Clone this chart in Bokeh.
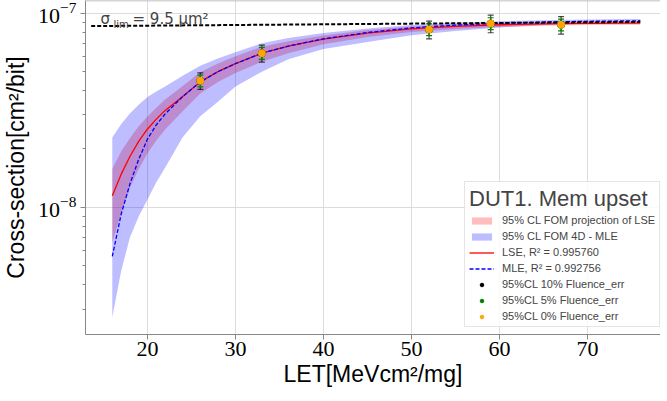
from bokeh.plotting import figure
from bokeh.models import FixedTicker, Legend, LegendItem, Label, Span
from bokeh.embed import file_html
from bokeh.resources import INLINE

# ---------------- data ----------------
let_curve = [16, 17, 18, 19, 20, 21, 22, 24, 26, 28, 30, 33, 36, 40, 45, 50, 55, 60, 65, 70, 76]
lse_fit = [1.15e-8, 1.48e-8, 1.83e-8, 2.19e-8, 2.535e-8, 2.85e-8, 3.16e-8, 3.72e-8, 4.43e-8, 5.00e-8, 5.50e-8,
           6.22e-8, 6.76e-8, 7.35e-8, 7.90e-8, 8.30e-8, 8.55e-8, 8.72e-8, 8.81e-8, 8.86e-8, 8.89e-8]
mle_fit = [5.6e-9, 9.2e-9, 1.32e-8, 1.77e-8, 2.25e-8, 2.66e-8, 3.03e-8, 3.72e-8, 4.43e-8, 5.00e-8, 5.50e-8,
           6.22e-8, 6.77e-8, 7.38e-8, 7.95e-8, 8.40e-8, 8.68e-8, 8.88e-8, 9.00e-8, 9.08e-8, 9.14e-8]
lse_band_high = [1.58e-8, 1.94e-8, 2.27e-8, 2.62e-8, 2.94e-8, 3.26e-8, 3.59e-8, 4.22e-8, 4.96e-8, 5.50e-8, 6.00e-8,
                 6.72e-8, 7.17e-8, 7.68e-8, 8.18e-8, 8.55e-8, 8.76e-8, 8.91e-8, 8.99e-8, 9.04e-8, 9.07e-8]
lse_band_low = [6.6e-9, 9.3e-9, 1.26e-8, 1.58e-8, 1.90e-8, 2.21e-8, 2.52e-8, 3.13e-8, 3.86e-8, 4.43e-8, 4.92e-8,
                5.63e-8, 6.22e-8, 6.91e-8, 7.54e-8, 8.01e-8, 8.29e-8, 8.50e-8, 8.62e-8, 8.68e-8, 8.71e-8]
mle_band_high = [2.29e-8, 2.68e-8, 3.05e-8, 3.38e-8, 3.70e-8, 3.95e-8, 4.20e-8, 4.76e-8, 5.36e-8, 5.85e-8, 6.30e-8,
                 7.00e-8, 7.45e-8, 7.90e-8, 8.35e-8, 8.70e-8, 8.93e-8, 9.10e-8, 9.20e-8, 9.27e-8, 9.32e-8]
mle_band_low = [2.72e-9, 4.7e-9, 7.0e-9, 9.0e-9, 1.10e-8, 1.35e-8, 1.60e-8, 2.30e-8, 2.95e-8, 3.50e-8, 4.20e-8,
                5.00e-8, 5.80e-8, 6.55e-8, 7.10e-8, 7.70e-8, 8.10e-8, 8.45e-8, 8.68e-8, 8.85e-8, 8.95e-8]

let_points = [26, 33, 52, 59, 67]
xs_points = [4.49e-8, 6.22e-8, 8.24e-8, 8.85e-8, 8.71e-8]
err_10 = [4.4e-9, 6.2e-9, 8.6e-9, 9.2e-9, 9.0e-9]
err_5 = [3.1e-9, 4.4e-9, 5.8e-9, 6.2e-9, 6.1e-9]
err_0 = [1.3e-9, 1.9e-9, 2.5e-9, 2.7e-9, 2.6e-9]

sigma_lim_x = [13.6, 76]
sigma_lim_y = [8.58e-8, 9.02e-8]

x_ticks = [20, 30, 40, 50, 60, 70]
y_major = [1e-8, 1e-7]
y_minor = [3e-9, 4e-9, 5e-9, 6e-9, 7e-9, 8e-9, 9e-9,
           2e-8, 3e-8, 4e-8, 5e-8, 6e-8, 7e-8, 8e-8, 9e-8]

legend_labels = ["95% CL FOM projection of LSE", "95% CL FOM 4D - MLE",
                 "LSE, R² = 0.995760", "MLE, R² = 0.992756",
                 "95%CL 10% Fluence_err", "95%CL 5% Fluence_err", "95%CL 0% Fluence_err"]

Y_TOP = 1.162e-7

# ---------------- figure ----------------
p = figure(width=660, height=393, x_range=(12.955, 78.30), y_range=(2.22e-9, Y_TOP),
           y_axis_type="log", output_backend="svg", toolbar_location=None,
           min_border_left=85, min_border_right=0, min_border_top=0, min_border_bottom=59)
p.outline_line_color = None
p.background_fill_color = "white"

AX = "#888888"
for ax in (p.xaxis[0], p.yaxis[0]):
    ax.axis_line_color = AX
    ax.major_tick_line_color = AX
    ax.minor_tick_line_color = AX
    ax.major_tick_out = 5
    ax.major_tick_in = 0
    ax.minor_tick_out = 3
    ax.minor_tick_in = 0
    ax.major_label_text_font = "Liberation Serif"
    ax.major_label_text_font_size = "22px"
    ax.major_label_text_color = "black"
    ax.axis_label_text_font = "Liberation Sans"
    ax.axis_label_text_font_size = "23px"
    ax.axis_label_text_font_style = "normal"
    ax.axis_label_text_color = "black"

p.xaxis.ticker = FixedTicker(ticks=x_ticks)
p.xaxis.minor_tick_line_color = None
p.xaxis.major_label_standoff = 2
p.xaxis.axis_label_standoff = 2
p.xaxis.axis_label = "LET[MeVcm²/mg]"

p.yaxis.ticker = FixedTicker(ticks=y_major, minor_ticks=y_minor)
p.yaxis.major_label_standoff = 4
p.yaxis.axis_label_standoff = 6
p.yaxis.axis_label = "Cross-section[cm²/bit]"

p.xgrid.ticker = FixedTicker(ticks=x_ticks)
p.ygrid.ticker = FixedTicker(ticks=y_major)
for g in (p.xgrid[0], p.ygrid[0]):
    g.grid_line_color = "#dcdcdc"
    g.grid_line_width = 1

p.add_layout(Span(location=Y_TOP, dimension="width", line_color="#aaaaaa", line_width=1.5))

# bands
r_pink = p.varea(x=let_curve, y1=lse_band_low, y2=lse_band_high, fill_color="red", fill_alpha=0.26)
r_blue = p.varea(x=let_curve, y1=mle_band_low, y2=mle_band_high, fill_color="blue", fill_alpha=0.26)

# fits
r_lse = p.line(let_curve, lse_fit, line_color="red", line_width=1.3)
r_mle = p.line(let_curve, mle_fit, line_color="blue", line_width=1.3, line_dash="4 2")

# saturation limit
p.line(sigma_lim_x, sigma_lim_y, line_color="black", line_width=2, line_dash="4 2")

# error bars
def errbars(err, color, alpha):
    up = [y + e for y, e in zip(xs_points, err)]
    lo = [y - e for y, e in zip(xs_points, err)]
    p.segment(let_points, lo, let_points, up, line_color=color, line_width=1.2, line_alpha=alpha)
    p.scatter(let_points, up, marker="dash", size=6, line_color=color, line_width=1.2, line_alpha=alpha)
    p.scatter(let_points, lo, marker="dash", size=6, line_color=color, line_width=1.2, line_alpha=alpha)

errbars(err_10, "black", 0.7)
errbars(err_5, "green", 1.0)
errbars(err_0, "orange", 1.0)

r_k = p.scatter(let_points, xs_points, marker="circle", size=7, fill_color="black", line_color="black")
r_g = p.scatter(let_points, xs_points, marker="circle", size=7, fill_color="green", line_color="green")
r_o = p.scatter(let_points, xs_points, marker="circle", size=7, fill_color="orange", line_color="orange")

# sigma_lim label (screen offsets from the frame's lower-left corner)
p.add_layout(Label(x=15, y=316, x_units="screen", y_units="screen", text="σ",
                   text_font="DejaVu Sans", text_font_size="15px", text_baseline="alphabetic"))
p.add_layout(Label(x=28, y=310, x_units="screen", y_units="screen", text="lim",
                   text_font="DejaVu Sans", text_font_size="10px", text_baseline="alphabetic"))
p.add_layout(Label(x=47, y=316, x_units="screen", y_units="screen", text="= 9.5 µm²",
                   text_font="DejaVu Sans", text_font_size="15px", text_baseline="alphabetic"))

renderers = [r_pink, r_blue, r_lse, r_mle, r_k, r_g, r_o]
items = [LegendItem(label=lab, renderers=[r]) for lab, r in zip(legend_labels, renderers)]
legend = Legend(items=items, location=(379, 7), margin=0, padding=4,
                title="DUT1. Mem upset", title_text_font="Liberation Sans",
                title_text_font_size="22px", title_text_font_style="normal", title_standoff=2,
                label_text_font="Liberation Sans", label_text_font_size="11px",
                glyph_width=25, glyph_height=9, label_height=9, label_standoff=8, spacing=4,
                border_line_color="#cccccc", border_line_width=1,
                background_fill_color="white", background_fill_alpha=0.85)
p.add_layout(legend)

open("out.html", "w").write(file_html(p, INLINE))
